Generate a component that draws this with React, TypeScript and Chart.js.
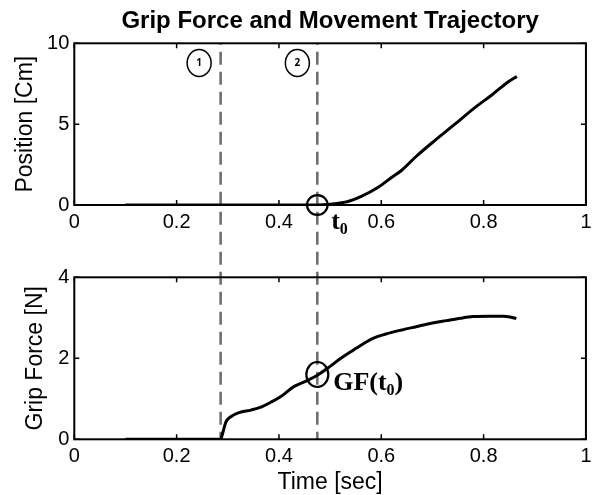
import { useEffect, useRef } from "react";
import { Chart, registerables } from "chart.js";

Chart.register(...registerables);

// ---------- data ----------
const positionTime = [0.1, 0.2, 0.3, 0.4, 0.475, 0.5, 0.535, 0.562, 0.594, 0.62, 0.64, 0.668, 0.705, 0.742, 0.786, 0.816, 0.845, 0.865];
const positionCm = [0, 0, 0, 0, 0, 0.05, 0.22, 0.55, 1.1, 1.7, 2.15, 3.0, 4.0, 4.95, 6.1, 6.8, 7.55, 7.95];

const gripTime = [0.1, 0.2, 0.286, 0.29, 0.296, 0.305, 0.322, 0.345, 0.366, 0.385, 0.403, 0.429, 0.455, 0.475, 0.5, 0.521, 0.545, 0.565, 0.585, 0.609, 0.64, 0.668, 0.7, 0.727, 0.755, 0.779, 0.81, 0.838, 0.852, 0.864];
const gripForceN = [0, 0, 0, 0.15, 0.42, 0.55, 0.66, 0.72, 0.8, 0.92, 1.05, 1.3, 1.45, 1.58, 1.8, 2.0, 2.2, 2.36, 2.5, 2.6, 2.7, 2.78, 2.87, 2.93, 2.99, 3.03, 3.04, 3.04, 3.02, 2.98];

const eventTimes = [0.286, 0.475];
const eventMarkerTimes = [0.244, 0.436];
const eventMarkerLabels = ["1", "2"];
const eventMarkerPosition = 8.78;

const t0Time = 0.475;
const t0Position = 0;
const gfAtT0 = 1.6;
const t0LabelAt = [0.502, -1.48];
const gfLabelAt = [0.506, 1.22];

const chartTitle = "Grip Force and Movement Trajectory";
const xAxisTitle = "Time [sec]";
const topYAxisTitle = "Position [Cm]";
const bottomYAxisTitle = "Grip Force [N]";

// ---------- styles ----------
const SANS = '"Liberation Sans", Arial, sans-serif';
const SERIF = '"Liberation Serif", "Times New Roman", serif';
const TOP_CANVAS_H = 277;
const BOTTOM_CANVAS_TOP = 257;
const BOTTOM_CANVAS_H = 238;
const DASH = [13, 7];
const DASH_ANCHOR = 51.7;

function dashOffset(globalY: number) {
  const p = DASH[0] + DASH[1];
  return (((globalY - DASH_ANCHOR) % p) + p) % p;
}

const fmtTick = (v: any) => String(Math.round(Number(v) * 100) / 100);

function framePlugin(cfg: {
  canvasTop: number;
  dashToCanvasBottom: boolean;
  draw: (chart: any, ctx: CanvasRenderingContext2D) => void;
}) {
  return {
    id: "frame",
    beforeDatasetsDraw(chart: any) {
      const ctx = chart.ctx as CanvasRenderingContext2D;
      const { top, bottom } = chart.chartArea;
      const xs = chart.scales.x;
      const yEnd = cfg.dashToCanvasBottom ? chart.height : bottom;
      ctx.save();
      ctx.strokeStyle = "#6b6b6b";
      ctx.lineWidth = 2.5;
      ctx.setLineDash(DASH);
      ctx.lineDashOffset = dashOffset(cfg.canvasTop + top);
      for (const t of eventTimes) {
        const x = xs.getPixelForValue(t);
        ctx.beginPath();
        ctx.moveTo(x, top);
        ctx.lineTo(x, yEnd);
        ctx.stroke();
      }
      ctx.restore();
    },
    afterDatasetsDraw(chart: any) {
      const ctx = chart.ctx as CanvasRenderingContext2D;
      const { left, right, top, bottom } = chart.chartArea;
      const xs = chart.scales.x;
      const ys = chart.scales.y;
      ctx.save();
      ctx.strokeStyle = "#000";
      ctx.lineWidth = 2;
      ctx.setLineDash([]);
      ctx.strokeRect(left, top, right - left, bottom - top);
      ctx.lineWidth = 1.5;
      const tl = 5;
      ctx.beginPath();
      for (const tk of xs.ticks) {
        const x = xs.getPixelForValue(tk.value);
        ctx.moveTo(x, bottom);
        ctx.lineTo(x, bottom - tl);
        ctx.moveTo(x, top);
        ctx.lineTo(x, top + tl);
      }
      for (const tk of ys.ticks) {
        const y = ys.getPixelForValue(tk.value);
        ctx.moveTo(left, y);
        ctx.lineTo(left + tl, y);
        ctx.moveTo(right, y);
        ctx.lineTo(right - tl, y);
      }
      ctx.stroke();
      cfg.draw(chart, ctx);
      ctx.restore();
    },
  };
}

function drawSubscripted(ctx: CanvasRenderingContext2D, parts: [string, boolean][], x: number, y: number) {
  let cx = x;
  for (const [txt, sub] of parts) {
    ctx.font = sub ? `bold 16px ${SERIF}` : `bold 26px ${SERIF}`;
    ctx.fillText(txt, cx, sub ? y + 5 : y);
    cx += ctx.measureText(txt).width;
  }
}

function baseLine(times: number[], values: number[]) {
  return {
    data: times.map((t, i) => ({ x: t, y: values[i] })),
    borderColor: "#000",
    borderWidth: 3,
    pointRadius: 0,
    fill: false,
    cubicInterpolationMode: "monotone" as const,
  };
}

const tickFont = { family: SANS, size: 20 };
const axisTitleFont = { family: SANS, size: 23, lineHeight: 1.2 };

export default function App() {
  const topRef = useRef<HTMLCanvasElement>(null);
  const bottomRef = useRef<HTMLCanvasElement>(null);

  useEffect(() => {
    Chart.defaults.color = "#000";

    const topChart = new Chart(topRef.current as HTMLCanvasElement, {
      type: "line",
      data: { datasets: [baseLine(positionTime, positionCm)] },
      options: {
        animation: false,
        responsive: false,
        maintainAspectRatio: false,
        devicePixelRatio: 1,
        layout: { padding: { left: 0, right: 8, top: 0, bottom: 0 } },
        plugins: {
          legend: { display: false },
          tooltip: { enabled: false },
          title: {
            display: true,
            text: chartTitle,
            fullSize: false,
            color: "#000",
            font: { family: SANS, size: 24, weight: "bold", lineHeight: 1.2 },
            padding: { top: 7, bottom: 7.5 },
          },
        },
        scales: {
          x: {
            type: "linear",
            min: 0,
            max: 1,
            afterFit: (s: any) => { s.height = 72; },
            grid: { display: false, drawTicks: false },
            border: { display: false },
            ticks: { stepSize: 0.2, padding: 5.5, color: "#000", font: tickFont, maxRotation: 0, autoSkip: false, callback: fmtTick },
          },
          y: {
            min: 0,
            max: 10,
            afterFit: (s: any) => { s.width = 74.3; },
            grid: { display: false, drawTicks: false },
            border: { display: false },
            ticks: { stepSize: 5, padding: 5, color: "#000", font: tickFont, callback: fmtTick },
            title: {
              display: true,
              text: topYAxisTitle,
              color: "#000",
              font: axisTitleFont,
              padding: { top: 12, bottom: 0 },
            },
          },
        },
      },
      plugins: [
        framePlugin({
          canvasTop: 0,
          dashToCanvasBottom: true,
          draw: (chart, ctx) => {
            const xs = chart.scales.x;
            const ys = chart.scales.y;
            ctx.lineWidth = 1.5;
            ctx.strokeStyle = "#000";
            ctx.fillStyle = "#000";
            eventMarkerTimes.forEach((t, i) => {
              const x = xs.getPixelForValue(t);
              const y = ys.getPixelForValue(eventMarkerPosition);
              ctx.beginPath();
              ctx.ellipse(x, y, 12, 13.5, 0, 0, Math.PI * 2);
              ctx.stroke();
              ctx.font = `bold 10px "Open Sans", "DejaVu Sans", sans-serif`;
              ctx.textAlign = "center";
              ctx.textBaseline = "middle";
              ctx.fillText(eventMarkerLabels[i], x, y + 0.5);
            });
            ctx.lineWidth = 2.2;
            ctx.beginPath();
            ctx.ellipse(xs.getPixelForValue(t0Time), ys.getPixelForValue(t0Position), 10.3, 9.8, 0, 0, Math.PI * 2);
            ctx.stroke();
            ctx.textAlign = "left";
            ctx.textBaseline = "alphabetic";
            drawSubscripted(ctx, [["t", false], ["0", true]], xs.getPixelForValue(t0LabelAt[0]), ys.getPixelForValue(t0LabelAt[1]));
          },
        }),
      ],
    } as any);

    const bottomChart = new Chart(bottomRef.current as HTMLCanvasElement, {
      type: "line",
      data: { datasets: [baseLine(gripTime, gripForceN)] },
      options: {
        animation: false,
        responsive: false,
        maintainAspectRatio: false,
        devicePixelRatio: 1,
        layout: { padding: { left: 0, right: 8, top: 20.3, bottom: 0 } },
        plugins: {
          legend: { display: false },
          tooltip: { enabled: false },
        },
        scales: {
          x: {
            type: "linear",
            min: 0,
            max: 1,
            afterFit: (s: any) => { s.height = 55.7; },
            grid: { display: false, drawTicks: false },
            border: { display: false },
            ticks: { stepSize: 0.2, padding: 5.5, color: "#000", font: tickFont, maxRotation: 0, autoSkip: false, callback: fmtTick },
            title: {
              display: true,
              text: xAxisTitle,
              color: "#000",
              font: { family: SANS, size: 23, lineHeight: 1 },
              padding: { top: 0, bottom: 1 },
            },
          },
          y: {
            min: 0,
            max: 4,
            afterFit: (s: any) => { s.width = 74.3; },
            grid: { display: false, drawTicks: false },
            border: { display: false },
            ticks: { stepSize: 2, padding: 5, color: "#000", font: tickFont, callback: fmtTick },
            title: {
              display: true,
              text: bottomYAxisTitle,
              color: "#000",
              font: axisTitleFont,
              padding: { top: 22, bottom: 0 },
            },
          },
        },
      },
      plugins: [
        framePlugin({
          canvasTop: BOTTOM_CANVAS_TOP,
          dashToCanvasBottom: false,
          draw: (chart, ctx) => {
            const xs = chart.scales.x;
            const ys = chart.scales.y;
            ctx.lineWidth = 2.2;
            ctx.strokeStyle = "#000";
            ctx.fillStyle = "#000";
            ctx.beginPath();
            ctx.ellipse(xs.getPixelForValue(t0Time), ys.getPixelForValue(gfAtT0), 11, 12.5, 0, 0, Math.PI * 2);
            ctx.stroke();
            ctx.textAlign = "left";
            ctx.textBaseline = "alphabetic";
            drawSubscripted(
              ctx,
              [["GF(t", false], ["0", true], [")", false]],
              xs.getPixelForValue(gfLabelAt[0]),
              ys.getPixelForValue(gfLabelAt[1])
            );
          },
        }),
      ],
    } as any);

    return () => {
      topChart.destroy();
      bottomChart.destroy();
    };
  }, []);

  return (
    <div style={{ position: "absolute", left: 0, top: 0, width: 597, height: 495, background: "#fff", overflow: "hidden" }}>
      <canvas
        ref={topRef}
        width={597}
        height={TOP_CANVAS_H}
        style={{ position: "absolute", left: 0, top: 0, width: 597, height: TOP_CANVAS_H, display: "block" }}
      />
      <canvas
        ref={bottomRef}
        width={597}
        height={BOTTOM_CANVAS_H}
        style={{ position: "absolute", left: 0, top: BOTTOM_CANVAS_TOP, width: 597, height: BOTTOM_CANVAS_H, display: "block" }}
      />
    </div>
  );
}
